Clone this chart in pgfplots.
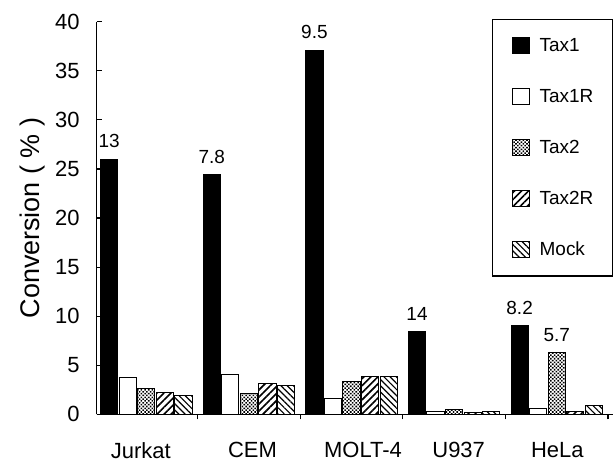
\documentclass[border=0pt]{standalone}
\usepackage{fontspec}
\setmainfont{Liberation Sans}
\usepackage{pgfplots}
\pgfplotsset{compat=1.18}
\usetikzlibrary{patterns,patterns.meta}

\pgfplotsset{
  mybox/.style={legend image code/.code={\draw[##1, line width=0.5pt] (0pt,-4pt) rectangle (8.5pt,4pt);}},
}

\begin{document}
\begin{tikzpicture}
\begin{axis}[
  scale only axis, width=258.6pt, height=196.6pt,
  xmin=-0.4847, xmax=4.55, ymin=0, ymax=40,
  clip=false,
  axis x line*=bottom, axis y line*=left,
  axis line style={line width=0.8pt},
  ytick={0,5,...,40},
  xtick={-0.054,1.034,2.112,3.044,4.005},
  xticklabels={Jurkat,CEM,MOLT-4,U937,HeLa},
  minor xtick={0.5,1.5,2.5,3.5,4.5},
  tick align=inside,
  major tick length=2.5pt, minor tick length=2.5pt,
  tick style={line width=0.6pt, black},
  major x tick style={draw=none},
  /pgf/number format/assume math mode=true,
  ticklabel style={font=\fontsize{11}{13}\selectfont},
  yticklabel style={xshift=-5pt},
  xticklabel style={yshift=-8pt},
  ylabel={Conversion ( \% )},
  ylabel style={font=\fontsize{13.5}{15}\selectfont, at={(axis description cs:-0.125,0.5)}, anchor=center},
  ybar, bar width=0.168,
  legend cell align=left,
  legend style={at={(axis description cs:1,1.0076)}, anchor=north east,
    font=\fontsize{9.5}{11}\selectfont, draw=black, line width=0.8pt,
    inner xsep=9.5pt, inner ysep=9pt, row sep=17pt,
    nodes={inner sep=0pt, text height=7pt, text depth=1pt},
    /tikz/every odd column/.append style={column sep=5pt}},
  nodes near coords style={font=\fontsize{9.5}{11}\selectfont, yshift=2pt, black},
]
\addplot[mybox, fill=black, draw=black, line width=0.5pt, bar shift=-0.362,
  nodes near coords, point meta=explicit symbolic]
  coordinates {(0,26.0)[13] (1,24.4)[7.8] (2,37.1)[9.5] (3,8.4)[14] (4,9.05)[8.2]};
\addplot[mybox, fill=white, draw=black, line width=0.5pt, bar shift=-0.181]
  coordinates {(0,3.8) (1,4.1) (2,1.6) (3,0.25) (4,0.65)};
\addplot[mybox, draw=black, line width=0.5pt, pattern={Dots[distance=1.3pt, radius=0.55pt, angle=45]}, pattern color=black, bar shift=0,
  nodes near coords, point meta=explicit symbolic]
  coordinates {(0,2.6)[{}] (1,2.1)[{}] (2,3.4)[{}] (3,0.5)[{}] (4,6.3)[5.7]};
\addplot[mybox, draw=black, line width=0.5pt, pattern={Lines[angle=45, distance=2.5pt, line width=0.8pt]}, pattern color=black, bar shift=0.181]
  coordinates {(0,2.2) (1,3.1) (2,3.9) (3,0.2) (4,0.3)};
\addplot[mybox, draw=black, line width=0.5pt, pattern={Lines[angle=-45, distance=2.2pt, line width=0.6pt]}, pattern color=black, bar shift=0.362]
  coordinates {(0,1.9) (1,2.95) (2,3.9) (3,0.3) (4,0.95)};
\legend{Tax1,Tax1R,Tax2,Tax2R,Mock}
\path (rel axis cs:-0.187,-0.1119) rectangle (rel axis cs:1,1.0552);
\end{axis}
\end{tikzpicture}
\end{document}
